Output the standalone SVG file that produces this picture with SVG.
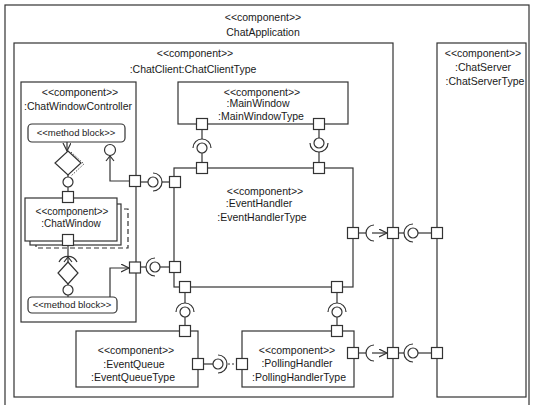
<svg xmlns="http://www.w3.org/2000/svg" width="535" height="405" viewBox="0 0 535 405">
<defs>
<style>
.box{fill:#fff;stroke:#333;stroke-width:1.2}
.frame{fill:none;stroke:#333;stroke-width:1.2}
.port{fill:#fff;stroke:#333;stroke-width:1.2}
.ln{fill:none;stroke:#333;stroke-width:1.2}
.ball{fill:#fff;stroke:#333;stroke-width:1.2}
.dash{fill:#fff;stroke:#333;stroke-width:1.2;stroke-dasharray:5,3}
text{font-family:"Liberation Sans",Arial,sans-serif;font-size:10.5px;fill:#1a1a1a;text-anchor:middle}
.sm{font-size:10px}
.mb{font-size:9.5px}
</style>
<marker id="open" markerWidth="10" markerHeight="10" refX="8" refY="4" orient="auto" markerUnits="userSpaceOnUse">
<path d="M0,0 L8,4 L0,8" fill="none" stroke="#333" stroke-width="1.2"/>
</marker>
</defs>
<rect width="535" height="405" fill="#fff"/>

<g id="ChatApplication">
<rect class="frame" x="5" y="5" width="524" height="410"/>
<text x="263" y="21">&lt;&lt;component&gt;&gt;</text>
<text x="263" y="36">ChatApplication</text>
</g>

<g id="ChatClient">
<rect class="frame" x="14" y="43" width="379" height="354"/>
<text x="195" y="57">&lt;&lt;component&gt;&gt;</text>
<text x="193" y="73">:ChatClient:ChatClientType</text>
</g>

<g id="ChatServer">
<rect class="frame" x="437" y="43" width="89" height="354"/>
<text x="483" y="57">&lt;&lt;component&gt;&gt;</text>
<text x="483" y="71">:ChatServer</text>
<text x="485" y="85">:ChatServerType</text>
</g>

<g id="ChatWindowController">
<rect class="box" x="21" y="82" width="115" height="240"/>
<text x="80" y="96">&lt;&lt;component&gt;&gt;</text>
<text x="78" y="110">:ChatWindowController</text>
</g>

<g id="MethodBlockTop">
<rect class="box" x="28" y="124" width="97" height="18" rx="4"/>
<text class="mb" x="76" y="136">&lt;&lt;method block&gt;&gt;</text>
</g>

<g id="DecisionTop">
<polyline points="71,152 84,164 71,176" fill="none" stroke="#555" stroke-width="1" stroke-dasharray="1.5,1.5"/>
<polygon class="box" points="68,151 81,163 68,175 55,163"/>
</g>

<g id="ChatWindow">
<rect class="dash" x="36" y="209" width="92" height="39"/>
<rect class="box" x="30" y="204" width="91" height="41"/>
<rect class="box" x="25" y="198" width="92" height="43"/>
<text class="sm" x="72" y="215">&lt;&lt;component&gt;&gt;</text>
<text class="sm" x="71" y="227">:ChatWindow</text>
</g>

<g id="DecisionBottom">
<polygon class="box" points="68,262 78,273 68,284 58,273"/>
</g>

<g id="MethodBlockBottom">
<rect class="box" x="28" y="297" width="89" height="16" rx="4"/>
<text class="mb" x="72" y="308">&lt;&lt;method block&gt;&gt;</text>
</g>

<g id="MainWindow">
<rect class="box" x="178" y="82" width="170" height="42"/>
<text x="262" y="96">&lt;&lt;component&gt;&gt;</text>
<text x="258" y="107">:MainWindow</text>
<text x="261" y="120">:MainWindowType</text>
</g>

<g id="EventHandler">
<rect class="box" x="174" y="168" width="179" height="119"/>
<text x="265" y="195">&lt;&lt;component&gt;&gt;</text>
<text x="259" y="207">:EventHandler</text>
<text x="262" y="221">:EventHandlerType</text>
</g>

<g id="EventQueue">
<rect class="box" x="76" y="331" width="122" height="56"/>
<text x="136" y="354">&lt;&lt;component&gt;&gt;</text>
<text x="134" y="368">:EventQueue</text>
<text x="133" y="381">:EventQueueType</text>
</g>

<g id="PollingHandler">
<rect class="box" x="242" y="331" width="112" height="56"/>
<text x="297" y="354">&lt;&lt;component&gt;&gt;</text>
<text x="297" y="367">:PollingHandler</text>
<text x="299" y="381">:PollingHandlerType</text>
</g>

<g id="connectors">
<!-- internal top: method block -> decision -> ball -> ChatWindow port -->
<line class="ln" x1="67" y1="142" x2="67" y2="151" marker-end="url(#open)"/>
<line class="ln" x1="68" y1="175" x2="68" y2="177"/>
<circle class="ball" cx="68" cy="182" r="5"/>
<line class="ln" x1="68" y1="187" x2="68" y2="191.5"/>
<!-- P1 to ball above -->
<polyline class="ln" points="129.5,181 110,181 110,156"/>
<path class="ln" d="M106,161 L110,156 L114,161"/>
<circle class="ball" cx="110" cy="150" r="5.5"/>
<!-- ChatWindow bottom port to socket/arrow/diamond -->
<line class="ln" x1="68" y1="245.5" x2="68" y2="256.5"/>
<path class="ln" d="M59,262 A10,10 0 0 1 77,262"/>
<line class="ln" x1="68" y1="262" x2="68" y2="257"/>
<path class="ln" d="M64,262 L68,257 L72,262"/>
<line class="ln" x1="68" y1="284" x2="68" y2="285"/>
<circle class="ball" cx="68" cy="290" r="5"/>
<line class="ln" x1="68" y1="295" x2="68" y2="297"/>
<!-- bottom method block to P2 -->
<polyline class="ln" points="110,297 110,268 129,268" marker-end="url(#open)"/>

<!-- P1 - EventHandler left 1 -->
<line class="ln" x1="140.5" y1="182" x2="148" y2="182"/>
<circle class="ball" cx="153" cy="182" r="5"/>
<path class="ln" d="M153,173 A9,9 0 0 1 153,191"/>
<line class="ln" x1="162" y1="182" x2="169.5" y2="182"/>
<!-- P2 - EventHandler left 2 -->
<line class="ln" x1="140.5" y1="267" x2="146" y2="267"/>
<path class="ln" d="M155,258 A9,9 0 0 0 155,276"/>
<circle class="ball" cx="155" cy="267" r="5"/>
<line class="ln" x1="160" y1="267" x2="169.5" y2="267"/>
<!-- MainWindow left - EventHandler top 1 -->
<line class="ln" x1="202" y1="129.5" x2="202" y2="139"/>
<path class="ln" d="M193,148 A9,9 0 0 1 211,148"/>
<circle class="ball" cx="202" cy="148" r="5"/>
<line class="ln" x1="202" y1="153" x2="202" y2="162.5"/>
<!-- MainWindow right - EventHandler top 2 -->
<line class="ln" x1="319" y1="129.5" x2="319" y2="138"/>
<circle class="ball" cx="319" cy="143" r="5"/>
<path class="ln" d="M310,143 A9,9 0 0 0 328,143"/>
<line class="ln" x1="319" y1="152" x2="319" y2="162.5"/>
<!-- EventHandler right - ChatClient port -->
<line class="ln" x1="358.5" y1="233" x2="366" y2="233"/>
<path class="ln" d="M374,225 A8,8 0 0 0 374,241"/>
<line class="ln" x1="372" y1="233" x2="387" y2="233" marker-end="url(#open)"/>
<!-- ChatClient port - ChatServer 1 -->
<line class="ln" x1="398.5" y1="233" x2="404" y2="233"/>
<path class="ln" d="M413,224 A9,9 0 0 0 413,242"/>
<circle class="ball" cx="413" cy="233" r="5"/>
<line class="ln" x1="418" y1="233" x2="431.5" y2="233"/>
<!-- EventHandler bottom 1 - EventQueue -->
<line class="ln" x1="185" y1="292.5" x2="185" y2="303"/>
<path class="ln" d="M176,312 A9,9 0 0 1 194,312"/>
<circle class="ball" cx="185" cy="312" r="5"/>
<line class="ln" x1="185" y1="317" x2="185" y2="325.5"/>
<!-- EventHandler bottom 2 - PollingHandler -->
<line class="ln" x1="337" y1="292.5" x2="337" y2="303"/>
<path class="ln" d="M328,312 A9,9 0 0 1 346,312"/>
<circle class="ball" cx="337" cy="312" r="5"/>
<line class="ln" x1="337" y1="317" x2="337" y2="325.5"/>
<!-- EventQueue - PollingHandler -->
<line class="ln" x1="203.5" y1="364" x2="213" y2="364"/>
<circle class="ball" cx="218" cy="364" r="5"/>
<path class="ln" d="M218,355 A9,9 0 0 1 218,373"/>
<line class="ln" x1="228" y1="364" x2="236.5" y2="364" stroke-dasharray="2,2"/>
<!-- PollingHandler right - ChatClient port 2 -->
<line class="ln" x1="358.5" y1="353" x2="366" y2="353"/>
<path class="ln" d="M374,345 A8,8 0 0 0 374,361"/>
<line class="ln" x1="372" y1="353" x2="387" y2="353" marker-end="url(#open)"/>
<!-- ChatClient port 2 - ChatServer 2 -->
<line class="ln" x1="398.5" y1="353" x2="404" y2="353"/>
<path class="ln" d="M413,344 A9,9 0 0 0 413,362"/>
<circle class="ball" cx="413" cy="353" r="5"/>
<line class="ln" x1="418" y1="353" x2="431.5" y2="353"/>
</g>

<g id="ports">
<rect class="port" x="62.5" y="191.5" width="11" height="11"/>
<rect class="port" x="62.5" y="234.5" width="11" height="11"/>
<rect class="port" x="129.5" y="175.5" width="11" height="11"/>
<rect class="port" x="129.5" y="262" width="11" height="11"/>
<rect class="port" x="169.5" y="176.5" width="11" height="11"/>
<rect class="port" x="169.5" y="261.5" width="11" height="11"/>
<rect class="port" x="196.5" y="118.5" width="11" height="11"/>
<rect class="port" x="313.5" y="118.5" width="11" height="11"/>
<rect class="port" x="196.5" y="162.5" width="11" height="11"/>
<rect class="port" x="313.5" y="162.5" width="11" height="11"/>
<rect class="port" x="347.5" y="227.5" width="11" height="11"/>
<rect class="port" x="387.5" y="227.5" width="11" height="11"/>
<rect class="port" x="431.5" y="227.5" width="11" height="11"/>
<rect class="port" x="179.5" y="281.5" width="11" height="11"/>
<rect class="port" x="331.5" y="281.5" width="11" height="11"/>
<rect class="port" x="179.5" y="325.5" width="11" height="11"/>
<rect class="port" x="331.5" y="325.5" width="11" height="11"/>
<rect class="port" x="192.5" y="358.5" width="11" height="11"/>
<rect class="port" x="236.5" y="358.5" width="11" height="11"/>
<rect class="port" x="347.5" y="347.5" width="11" height="11"/>
<rect class="port" x="387.5" y="347.5" width="11" height="11"/>
<rect class="port" x="431.5" y="347.5" width="11" height="11"/>
</g>
</svg>
